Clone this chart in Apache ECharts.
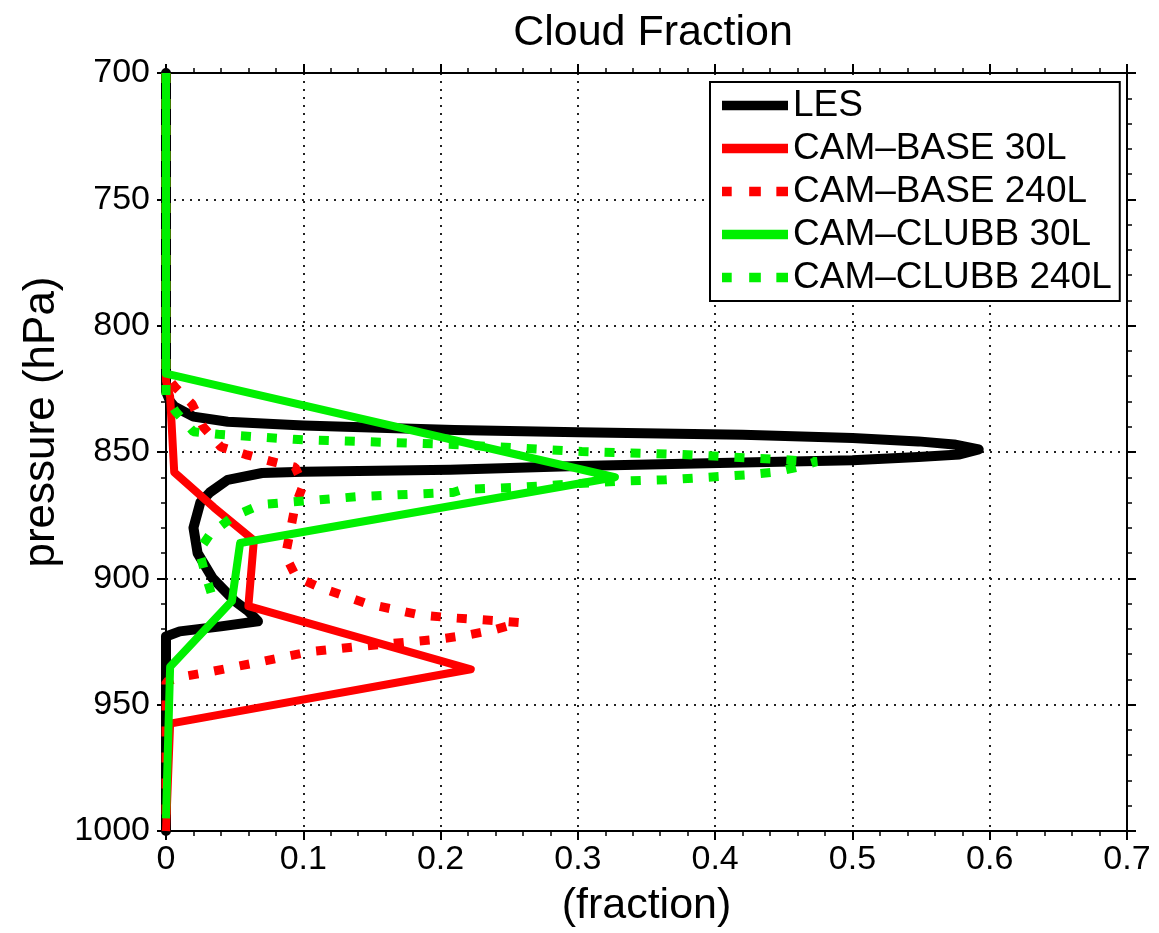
<!DOCTYPE html>
<html>
<head>
<meta charset="utf-8">
<script src="https://cdn.jsdelivr.net/npm/echarts@6/dist/echarts.min.js"></script>
<style>
html,body{margin:0;padding:0;background:#fff;}
#chart{width:1159px;height:933px;}
</style>
</head>
<body>
<div id="chart"></div>
<script>
// [fraction, pressure hPa]
const seriesNames = ['LES', 'CAM\u2013BASE 30L', 'CAM\u2013BASE 240L', 'CAM\u2013CLUBB 30L', 'CAM\u2013CLUBB 240L'];
const xTicks = [0, 0.1, 0.2, 0.3, 0.4, 0.5, 0.6, 0.7];
const yTicks = [700, 750, 800, 850, 900, 950, 1000];

const les = [[0,700],[0,826],[0.003,830],[0.006,832],[0.02,836],[0.045,838],[0.1,839.5],[0.21,841.3],[0.3,842.2],[0.42,843.2],[0.5,844.5],[0.548,845.8],[0.574,847],[0.592,849],[0.578,851],[0.548,852],[0.5,853.3],[0.42,854.2],[0.3,855.5],[0.207,857],[0.1,857.8],[0.07,858.3],[0.045,861],[0.032,866],[0.025,870],[0.02,880],[0.023,890],[0.034,900],[0.05,909],[0.06,913],[0.067,917],[0.04,919],[0.01,921],[0,923],[0,1000]];
const base30 = [[0,700],[0,822],[0.003,828],[0.006,858],[0.035,872],[0.064,885],[0.06,911],[0.222,936],[0.003,957.5],[0,1000]];
const base240 = [[0,700],[0,820],[0.007,824.5],[0.019,831],[0.027,840],[0.04,848],[0.058,851],[0.076,853.6],[0.094,856],[0.1,863],[0.094,871.5],[0.087,891],[0.095,899.6],[0.114,904],[0.146,910],[0.185,914.5],[0.205,915.5],[0.241,916.8],[0.258,917.5],[0.238,920.5],[0.219,922.5],[0.2,924],[0.18,925],[0.14,927],[0.105,929],[0.069,933],[0.032,937],[0.011,939],[0,941],[0,1000]];
const clubb30 = [[0,700],[0,819],[0.327,860],[0.054,886],[0.048,909],[0.003,935],[0,995]];
const clubb240 = [[0,700],[0,828],[0.007,834],[0.02,842],[0.038,843],[0.093,845],[0.209,847],[0.303,849.8],[0.376,851],[0.449,853],[0.474,853.8],[0.46,856],[0.443,858],[0.424,859],[0.364,861],[0.328,861.6],[0.256,864],[0.216,864.8],[0.209,866],[0.141,867.6],[0.069,870.8],[0.049,875.5],[0.032,882.6],[0.024,889],[0.029,899],[0.035,909.5]];

const font = 'Liberation Sans, Arial, Helvetica, sans-serif';
const chart = echarts.init(document.getElementById('chart'), null, {renderer: 'canvas'});

const gridLine = {show: true, lineStyle: {color: '#222', width: 2, type: [2, 6]}};
const tickCommon = {show: true, length: 9, lineStyle: {color: '#000', width: 2}};
const minorCommon = {show: true, splitNumber: 5, length: 5, lineStyle: {color: '#000', width: 1.5}};

function fmtX(v) { return String(Math.round(v*10)/10); }
function fmtY(v) { return String(Math.round(v)); }

const solidIcon = 'path://M0,0h68v10h-68z';
const dashIcon = 'path://M0,0h10v10h-10zM28,0h12v10h-12zM56,0h12v10h-12z';

const option = {
  backgroundColor: '#fff',
  animation: false,
  title: {
    text: 'Cloud Fraction',
    left: 648, top: 7, textAlign: 'center',
    textStyle: {fontFamily: font, fontSize: 43, fontWeight: 'normal', color: '#000'}
  },
  grid: {left: 166, right: 32, top: 73, bottom: 101, containLabel: false},
  legend: {
    orient: 'vertical',
    left: 710, top: 82,
    padding: [5, 8, 5, 12],
    backgroundColor: '#fff',
    borderColor: '#000', borderWidth: 2,
    itemWidth: 66, itemHeight: 10, itemGap: 6,
    textStyle: {fontFamily: font, fontSize: 37, color: '#000', lineHeight: 37, padding: [0,0,0,0]},
    data: [
      {name: seriesNames[0], icon: solidIcon},
      {name: seriesNames[1], icon: solidIcon},
      {name: seriesNames[2], icon: dashIcon},
      {name: seriesNames[3], icon: solidIcon},
      {name: seriesNames[4], icon: dashIcon}
    ]
  },
  xAxis: [{
    type: 'value', min: 0, max: 0.7, interval: 0.1, position: 'bottom',
    name: '(fraction)', nameLocation: 'middle', nameGap: 54,
    nameTextStyle: {fontFamily: font, fontSize: 43, color: '#000'},
    axisLine: {show: true, lineStyle: {color: '#000', width: 2}},
    axisTick: tickCommon, minorTick: minorCommon,
    axisLabel: {fontFamily: font, fontSize: 34, color: '#000', margin: 12, formatter: fmtX},
    splitLine: gridLine
  }, {
    type: 'value', min: 0, max: 0.7, interval: 0.1, position: 'top',
    axisLine: {show: true, onZero: false, lineStyle: {color: '#000', width: 2}},
    axisTick: tickCommon, minorTick: minorCommon,
    axisLabel: {show: false}, splitLine: {show: false}
  }],
  yAxis: [{
    type: 'value', min: 700, max: 1000, interval: 50, inverse: true, position: 'left',
    name: 'pressure (hPa)', nameLocation: 'middle', nameGap: 84, nameRotate: 90,
    nameTextStyle: {fontFamily: font, fontSize: 44, color: '#000', padding: [0, 0, 0, 60]},
    axisLine: {show: true, onZero: false, lineStyle: {color: '#000', width: 2}},
    axisTick: tickCommon, minorTick: minorCommon,
    axisLabel: {fontFamily: font, fontSize: 34, color: '#000', margin: 16, formatter: fmtY},
    splitLine: gridLine
  }, {
    type: 'value', min: 700, max: 1000, interval: 50, inverse: true, position: 'right',
    axisLine: {show: true, onZero: false, lineStyle: {color: '#000', width: 2}},
    axisTick: tickCommon, minorTick: minorCommon,
    axisLabel: {show: false}, splitLine: {show: false}
  }],
  series: [
    {name: seriesNames[0], type: 'line', data: les, showSymbol: false, symbol: 'none', z: 2,
     lineStyle: {color: '#000', width: 10, cap: 'round', join: 'round'}, itemStyle: {color: '#000'}},
    {name: seriesNames[1], type: 'line', data: base30, showSymbol: false, symbol: 'none', z: 3,
     lineStyle: {color: '#ff0000', width: 8, join: 'round'}, itemStyle: {color: '#ff0000'}},
    {name: seriesNames[2], type: 'line', data: base240, showSymbol: false, symbol: 'none', z: 4,
     lineStyle: {color: '#ff0000', width: 9, type: [10, 16]}, itemStyle: {color: '#ff0000'}},
    {name: seriesNames[3], type: 'line', data: clubb30, showSymbol: false, symbol: 'none', z: 6,
     lineStyle: {color: '#00f000', width: 8, join: 'round'}, itemStyle: {color: '#00f000'}},
    {name: seriesNames[4], type: 'line', data: clubb240, showSymbol: false, symbol: 'none', z: 5,
     lineStyle: {color: '#00f000', width: 9, type: [10, 16]}, itemStyle: {color: '#00f000'}}
  ]
};
chart.setOption(option);
</script>
</body>
</html>
